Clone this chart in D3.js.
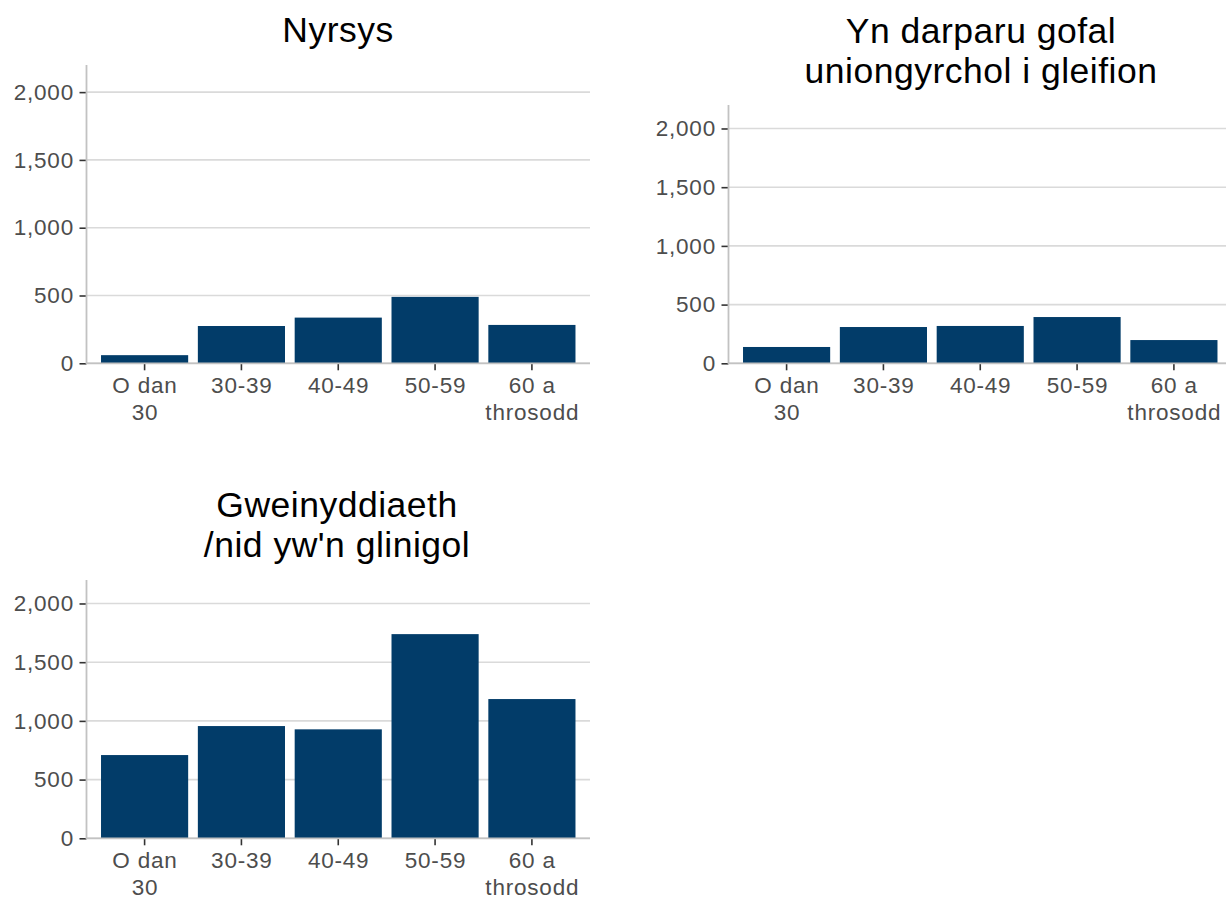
<!DOCTYPE html>
<html>
<head>
<meta charset="utf-8">
<script src="https://cdn.jsdelivr.net/npm/d3@7"></script>
<style>
  body { margin: 0; background: #fff; }
  svg { display: block; font-family: "Liberation Sans", Arial, sans-serif; }
</style>
</head>
<body>
<div id="chart"></div>
<script>
const W = 1226, H = 899;

// data
const ageGroups = ['O dan 30', '30-39', '40-49', '50-59', '60 a throsodd'];
const ageLabels = [['O dan', '30'], ['30-39'], ['40-49'], ['50-59'], ['60 a', 'throsodd']];
const nyrsys = [60, 275, 337, 490, 283];
const gofalUniongyrchol = [139, 309, 318, 394, 198];
const gweinyddiaeth = [709, 956, 928, 1739, 1186];
const yTicks = [0, 500, 1000, 1500, 2000];
const yMax = 2200;

const titles = [
  ['Nyrsys'],
  ['Yn darparu gofal', 'uniongyrchol i gleifion'],
  ['Gweinyddiaeth', "/nid yw'n glinigol"]
];

// panel boxes (plot area) and title baselines
const panels = [
  { values: nyrsys, title: titles[0], x0: 86.5, x1: 590, y0: 65, y1: 363.3, titleX: 338, titleY: 42 },
  { values: gofalUniongyrchol, title: titles[1], x0: 728.5, x1: 1232, y0: 105, y1: 363.3, titleX: 981, titleY: 43 },
  { values: gweinyddiaeth, title: titles[2], x0: 86.5, x1: 590, y0: 580, y1: 838.3, titleX: 337, titleY: 517 }
];

const barColor = '#023c69';
const gridColor = '#dadada';
const axisColor = '#c2c2c2';
const labelFont = 22.5;

const svg = d3.select('#chart').append('svg')
  .attr('width', W)
  .attr('height', H);

panels.forEach((p) => {
  let xScale = d3.scaleBand()
    .domain(ageGroups)
    .range([p.x0, p.x1])
    .paddingInner(0.1)
    .paddingOuter(0.15);
  let yScale = d3.scaleLinear()
    .domain([0, yMax])
    .range([p.y1, p.y0]);

  let g = svg.append('g').attr('class', 'panel');

  // title
  let title = g.append('text')
    .attr('x', p.titleX)
    .attr('y', p.titleY)
    .attr('text-anchor', 'middle')
    .attr('font-size', 35.5)
    .attr('letter-spacing', 0.5)
    .attr('fill', '#000');
  p.title.forEach((line, i) => {
    title.append('tspan')
      .attr('x', p.titleX)
      .attr('dy', i === 0 ? 0 : 39.5)
      .text(line);
  });

  // gridlines
  g.selectAll('line.grid')
    .data(yTicks)
    .enter().append('line')
      .attr('class', 'grid')
      .attr('x1', p.x0)
      .attr('x2', p.x1)
      .attr('y1', (d) => yScale(d))
      .attr('y2', (d) => yScale(d))
      .attr('stroke', gridColor)
      .attr('stroke-width', 1.6);

  // bars
  g.selectAll('rect.bar')
    .data(p.values)
    .enter().append('rect')
      .attr('class', 'bar')
      .attr('fill', barColor)
      .attr('x', (d, i) => xScale(ageGroups[i]))
      .attr('y', (d) => yScale(d))
      .attr('width', xScale.bandwidth())
      .attr('height', (d) => yScale(0) - yScale(d));

  // y axis
  let yAxis = d3.axisLeft(yScale)
    .tickValues(yTicks)
    .tickFormat(d3.format(','))
    .tickSize(7)
    .tickPadding(5.5);
  let ya = g.append('g')
    .attr('transform', `translate(${p.x0},0)`)
    .call(yAxis);
  ya.select('.domain').remove();
  ya.selectAll('.tick line').attr('stroke', '#333').attr('stroke-width', 1.6);
  ya.selectAll('.tick text')
    .attr('fill', '#4d4d4d')
    .attr('font-size', labelFont)
    .attr('letter-spacing', 0.8)
    .attr('font-family', '"Liberation Sans", Arial, sans-serif');
  g.append('line')
    .attr('x1', p.x0).attr('x2', p.x0)
    .attr('y1', p.y0).attr('y2', p.y1 + 0.8)
    .attr('stroke', axisColor)
    .attr('stroke-width', 1.8);

  // x axis
  let xAxis = d3.axisBottom(xScale)
    .tickSize(7)
    .tickPadding(8)
    .tickFormat(() => '');
  let xa = g.append('g')
    .attr('transform', `translate(0,${p.y1})`)
    .call(xAxis);
  xa.select('.domain').remove();
  xa.selectAll('.tick line').attr('stroke', '#333').attr('stroke-width', 1.6);
  xa.selectAll('.tick text').each(function (d, i) {
    let t = d3.select(this)
      .attr('fill', '#4d4d4d')
      .attr('font-size', labelFont)
      .attr('letter-spacing', 0.8)
      .attr('font-family', '"Liberation Sans", Arial, sans-serif')
      .attr('dy', null)
      .attr('y', 30);
    ageLabels[i].forEach((line, j) => {
      t.append('tspan')
        .attr('x', 0.4)
        .attr('dy', j === 0 ? 0 : 27)
        .text(line);
    });
  });
  g.append('line')
    .attr('x1', p.x0).attr('x2', p.x1)
    .attr('y1', p.y1).attr('y2', p.y1)
    .attr('stroke', axisColor)
    .attr('stroke-width', 1.8);
});
</script>
</body>
</html>
